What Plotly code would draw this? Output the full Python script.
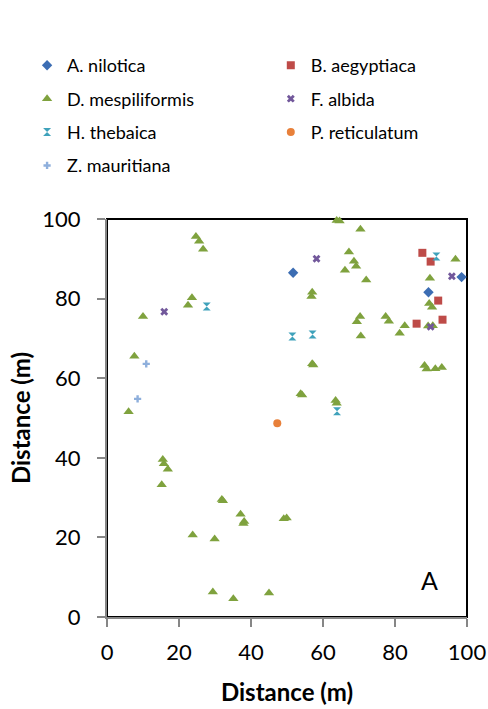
import plotly.graph_objects as go

# ---- data ----
nilotica_x = [51.7, 98.5, 89.3]
nilotica_y = [86.5, 85.4, 81.6]

aegyptiaca_x = [87.6, 89.9, 92.0, 93.2, 86.0]
aegyptiaca_y = [91.5, 89.3, 79.5, 74.7, 73.7]

mespili_x = [24.7, 25.6, 26.7, 23.6, 22.5, 10.0, 7.6, 6.0,
             63.8, 64.6, 70.4, 67.2, 68.6, 69.2, 66.1, 72.0, 89.7, 96.8,
             57.0, 56.8, 70.3, 69.4, 77.4, 78.3, 82.7, 81.3, 70.5,
             89.5, 90.3, 89.2, 90.5, 57.0, 57.3, 88.2, 88.8, 91.2, 93.0,
             53.8, 54.2, 63.5, 63.8,
             15.5, 15.8, 16.9, 15.2, 31.9, 32.2, 37.1, 38.1, 37.9, 49.1, 49.9,
             23.8, 29.9, 29.4, 35.1, 45.0]
mespili_y = [95.6, 94.4, 92.4, 80.2, 78.3, 75.5, 65.5, 51.6,
             99.6, 99.5, 97.4, 91.7, 89.4, 88.1, 87.1, 84.7, 85.1, 89.9,
             81.6, 80.5, 75.5, 74.2, 75.5, 74.3, 73.2, 71.3, 70.6,
             78.8, 77.8, 73.1, 73.2, 63.6, 63.3, 63.2, 62.3, 62.4, 62.7,
             56.1, 55.8, 54.4, 53.7,
             39.6, 38.5, 37.1, 33.2, 29.5, 29.2, 25.8, 24.0, 23.5, 24.7, 24.9,
             20.6, 19.6, 6.3, 4.6, 6.0]

albida_x = [15.9, 58.2, 95.8, 89.9]
albida_y = [76.7, 90.0, 85.6, 72.9]

thebaica_x = [27.7, 91.5, 51.5, 57.1, 63.9]
thebaica_y = [78.0, 90.6, 70.5, 71.0, 51.7]

reticulatum_x = [47.3]
reticulatum_y = [48.7]

mauritiana_x = [10.9, 8.5]
mauritiana_y = [63.6, 54.8]

x_ticks = [0, 20, 40, 60, 80, 100]
y_ticks = [0, 20, 40, 60, 80, 100]

FONT = "Lato"

series = [
    ("A. nilotica", nilotica_x, nilotica_y, "diamond", "#3C6DB3", 8, "legend"),
    ("B. aegyptiaca", aegyptiaca_x, aegyptiaca_y, "square", "#BE4B48", 8, "legend2"),
    ("D. mespiliformis", mespili_x, mespili_y, "triangle-up", "#7FA23E", 9, "legend"),
    ("F. albida", albida_x, albida_y, "x", "#72589B", 7, "legend2"),
    ("H. thebaica", thebaica_x, thebaica_y, "hourglass", "#3FA2BB", 8, "legend"),
    ("P. reticulatum", reticulatum_x, reticulatum_y, "circle", "#E8803A", 8, "legend2"),
    ("Z. mauritiana", mauritiana_x, mauritiana_y, "cross", "#8EAFDC", 6, "legend"),
]

fig = go.Figure()
for name, xs, ys, sym, col, sz, lg in series:
    fig.add_trace(go.Scatter(
        x=xs, y=ys, mode="markers", name=name, legendgroup=name, legend=lg,
        marker=dict(symbol=sym, color=col, size=sz, line=dict(width=0)),
        cliponaxis=False,
    ))

axis_common = dict(
    showgrid=False, zeroline=False, showline=True, linecolor="#868686", linewidth=2,
    ticks="outside", ticklen=8, tickwidth=2, tickcolor="#868686",
    tickfont=dict(family=FONT, size=22, color="#000000"),
    range=[0, 100], automargin=False,
)

fig.update_xaxes(**axis_common, tickvals=x_ticks, ticklabelstandoff=7,
                 title=dict(text="<b>Distance (m)</b>", font=dict(family=FONT, size=24, color="#000"), standoff=20))
fig.update_yaxes(**axis_common, tickvals=y_ticks, ticklabelstandoff=12,
                 title=dict(text="<b>Distance (m)</b>", font=dict(family=FONT, size=24, color="#000"), standoff=5))

fig.add_shape(type="rect", xref="paper", yref="paper", x0=0, y0=0, x1=1, y1=1,
              line=dict(color="#000000", width=2), layer="below")

fig.add_annotation(x=89.7, y=9.4, text="A", showarrow=False,
                   font=dict(family=FONT, size=25, color="#000"))

legend_common = dict(
    orientation="v", xanchor="left", yanchor="top",
    font=dict(family=FONT, size=18, color="#000"),
    bgcolor="rgba(0,0,0,0)", tracegroupgap=7, traceorder="grouped",
)

fig.update_layout(
    width=488, height=709,
    margin=dict(l=107, r=21, t=219, b=92, autoexpand=False),
    plot_bgcolor="white", paper_bgcolor="white",
    showlegend=True,
    legend=dict(**legend_common, x=-0.222, y=1.432),
    legend2=dict(**legend_common, x=0.455, y=1.432),
)

fig.write_html("out.html")
